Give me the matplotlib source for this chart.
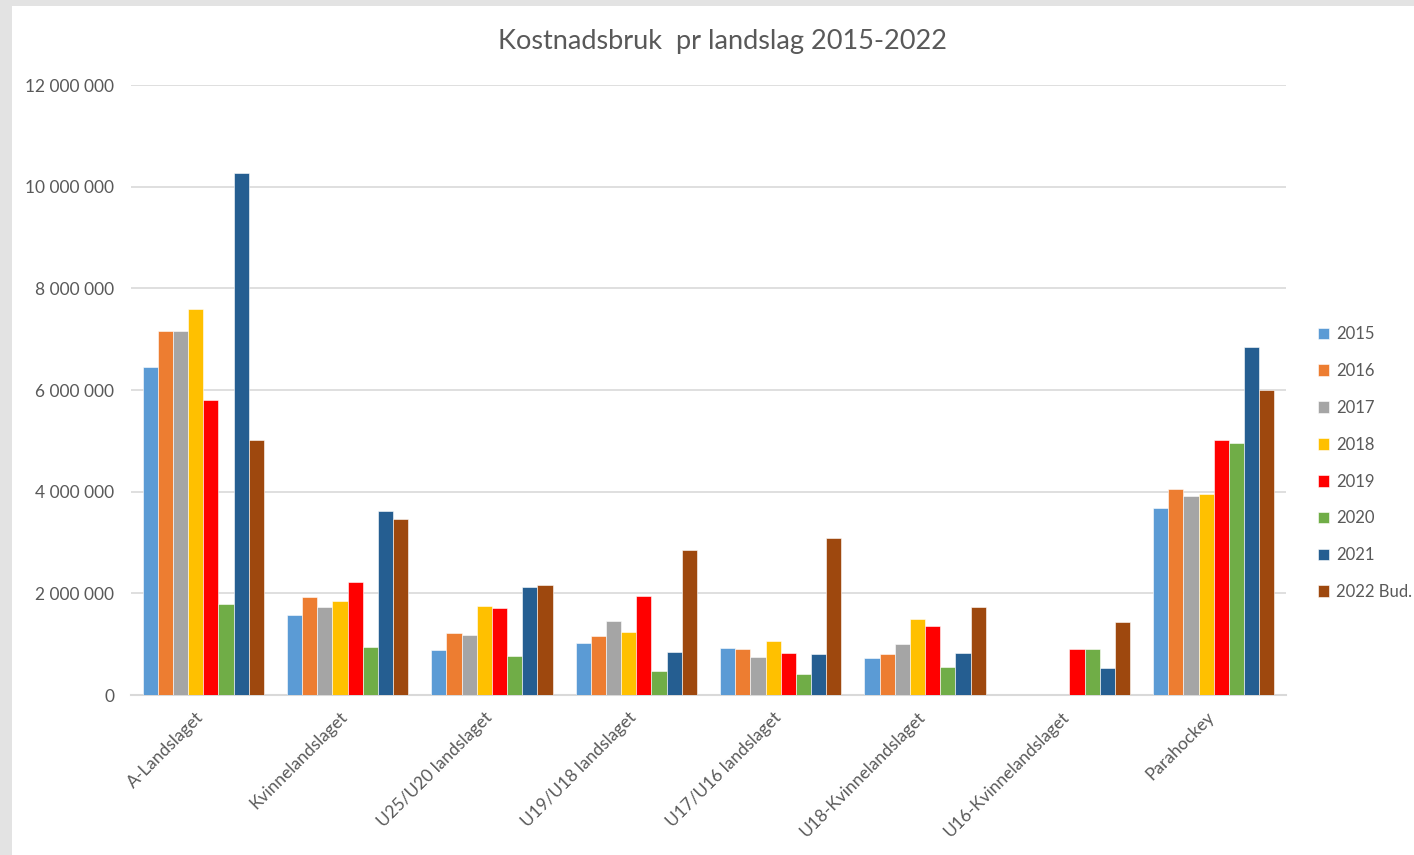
import numpy as np
import matplotlib
matplotlib.use("Agg")
import matplotlib.pyplot as plt
from matplotlib.patches import Rectangle
from matplotlib.ticker import FuncFormatter
from matplotlib.transforms import ScaledTranslation

# data
categories = ["A-Landslaget", "Kvinnelandslaget", "U25/U20 landslaget", "U19/U18 landslaget",
              "U17/U16 landslaget", "U18-Kvinnelandslaget", "U16-Kvinnelandslaget", "Parahockey"]
series_names = ["2015", "2016", "2017", "2018", "2019", "2020", "2021", "2022 Bud."]
colors = ["#5B9BD5", "#ED7D31", "#A5A5A5", "#FFC000", "#FF0000", "#70AD47", "#255E91", "#9E480E"]

v2015 = [6450000, 1570000, 885000, 1020000, 920000, 730000, np.nan, 3680000]
v2016 = [7160000, 1930000, 1220000, 1160000, 900000, 810000, np.nan, 4050000]
v2017 = [7160000, 1730000, 1180000, 1460000, 750000, 1000000, np.nan, 3910000]
v2018 = [7590000, 1850000, 1750000, 1240000, 1060000, 1490000, np.nan, 3950000]
v2019 = [5800000, 2220000, 1710000, 1950000, 830000, 1360000, 900000, 5020000]
v2020 = [1790000, 940000, 770000, 470000, 410000, 550000, 910000, 4950000]
v2021 = [10270000, 3620000, 2120000, 850000, 810000, 830000, 530000, 6850000]
v2022 = [5020000, 3460000, 2160000, 2850000, 3090000, 1730000, 1430000, 6000000]
values = [v2015, v2016, v2017, v2018, v2019, v2020, v2021, v2022]

plt.rcParams['font.family'] = ['Lato', 'DejaVu Sans']
text_col = "#595959"
grid_col = "#d9d9d9"

fig = plt.figure(figsize=(14.14, 8.55), dpi=100)
fig.patch.set_facecolor("white")

# screenshot border on left and top
fig.patches.append(Rectangle((0, 0), 12 / 1414, 1, transform=fig.transFigure,
                             facecolor="#e3e3e3", edgecolor="none", zorder=0))
fig.patches.append(Rectangle((0, 1 - 6 / 855), 1, 6 / 855, transform=fig.transFigure,
                             facecolor="#e3e3e3", edgecolor="none", zorder=0))

ax = fig.add_axes([131 / 1414, 160 / 855, 1155 / 1414, 610 / 855])

x = np.arange(len(categories))
n = len(series_names)
bw = 0.105
for i, (name, vals, c) in enumerate(zip(series_names, values, colors)):
    offs = (i - (n - 1) / 2) * bw
    ax.bar(x + offs, vals, width=bw, color=c, label=name, zorder=3,
           edgecolor="white", linewidth=0.4)

ax.set_xlim(-0.5, len(categories) - 0.5)
ax.set_ylim(0, 12000000)
ax.set_yticks(np.arange(0, 12000001, 2000000))
ax.yaxis.set_major_formatter(FuncFormatter(lambda v, p: f"{int(v):,}".replace(",", " ")))
ax.grid(axis="y", color=grid_col, linewidth=1.2, zorder=0)
for s in ["top", "right", "left"]:
    ax.spines[s].set_visible(False)
ax.spines["bottom"].set_color(grid_col)
ax.spines["bottom"].set_linewidth(1.5)
ax.tick_params(axis="both", length=0, colors=text_col, labelsize=12.5)
ax.tick_params(axis="y", pad=12)

ax.set_xticks(x)
ax.set_xticklabels(categories, rotation=45, ha="right", rotation_mode="anchor", color=text_col)
ax.tick_params(axis="x", pad=10)
shift = ScaledTranslation(-8 / 100, 0, fig.dpi_scale_trans)
for lab in ax.get_xticklabels():
    lab.set_transform(lab.get_transform() + shift)

fig.text(723 / 1414, 1 - 42 / 855, "Kostnadsbruk  pr landslag 2015-2022", ha="center", va="center",
         fontsize=19.5, color=text_col)

leg = ax.legend(loc="center left", bbox_to_anchor=(1.0145, 0.38), frameon=False,
                labelspacing=1.25, handlelength=0.7, handleheight=0.7, handletextpad=0.4,
                fontsize=12, labelcolor=text_col)

fig.savefig("out.png", dpi=100, facecolor="white")
